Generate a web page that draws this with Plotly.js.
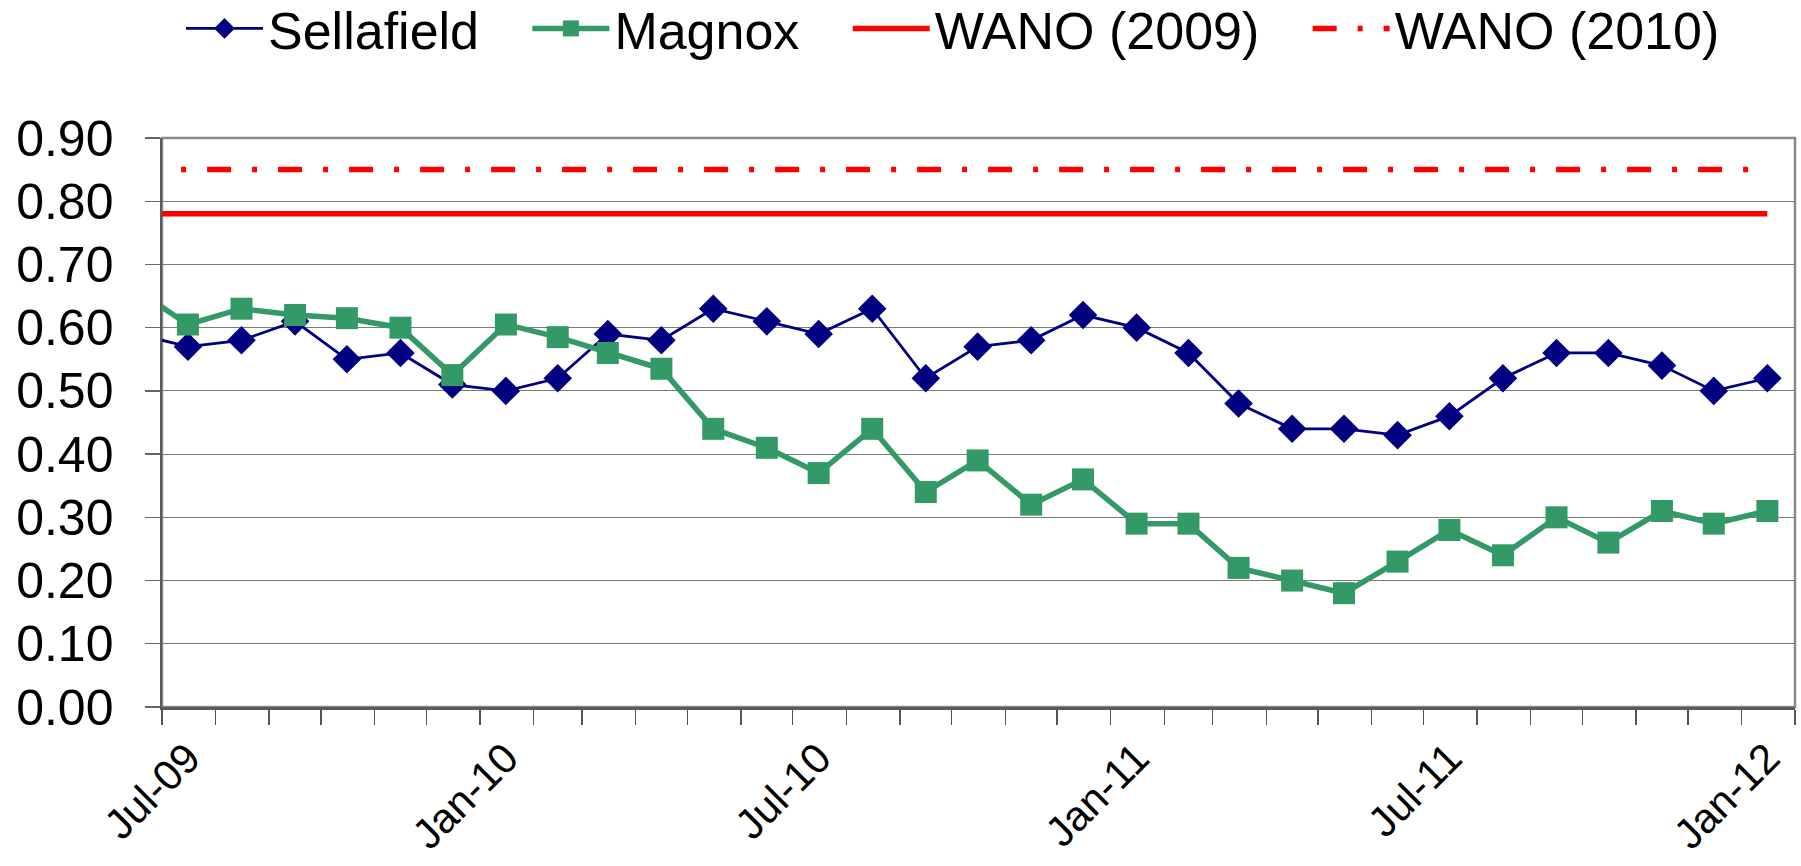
<!DOCTYPE html>
<html><head><meta charset="utf-8">
<script src="https://cdn.plot.ly/plotly-3.0.1.min.js"></script>
<style>html,body{margin:0;padding:0;background:#fff}#chart{width:1801px;height:866px}</style>
</head><body><div id="chart"></div>
<script>
// Monthly data points (mid-month); first point (Jun-09) lies just left of the visible axis range
const months = [
  '2009-06-16','2009-07-16','2009-08-16','2009-09-16','2009-10-16','2009-11-16','2009-12-16',
  '2010-01-16','2010-02-15','2010-03-16','2010-04-16','2010-05-16','2010-06-16',
  '2010-07-16','2010-08-16','2010-09-16','2010-10-16','2010-11-16','2010-12-16',
  '2011-01-16','2011-02-15','2011-03-16','2011-04-16','2011-05-16','2011-06-16',
  '2011-07-16','2011-08-16','2011-09-16','2011-10-16','2011-11-16','2011-12-16',
  '2012-01-16'
];
const sellafield = [0.59,
  0.57,0.58,0.61,0.55,0.56,0.51,
  0.50,0.52,0.59,0.58,0.63,0.61,
  0.59,0.63,0.52,0.57,0.58,0.62,
  0.60,0.56,0.48,0.44,0.44,0.43,
  0.46,0.52,0.56,0.56,0.54,0.50,
  0.52];
const magnox = [0.66,
  0.605,0.63,0.62,0.615,0.60,0.525,
  0.605,0.585,0.56,0.535,0.44,0.41,
  0.37,0.44,0.34,0.39,0.32,0.36,
  0.29,0.29,0.22,0.20,0.18,0.23,
  0.28,0.24,0.30,0.26,0.31,0.29,
  0.31];
const wano2009 = [0.78,
  0.78,0.78,0.78,0.78,0.78,0.78,
  0.78,0.78,0.78,0.78,0.78,0.78,
  0.78,0.78,0.78,0.78,0.78,0.78,
  0.78,0.78,0.78,0.78,0.78,0.78,
  0.78,0.78,0.78,0.78,0.78,0.78,
  0.78];
const wano2010 = [0.85,
  0.85,0.85,0.85,0.85,0.85,0.85,
  0.85,0.85,0.85,0.85,0.85,0.85,
  0.85,0.85,0.85,0.85,0.85,0.85,
  0.85,0.85,0.85,0.85,0.85,0.85,
  0.85,0.85,0.85,0.85,0.85,0.85,
  0.85];
const seriesNames = ['Sellafield','Magnox','WANO (2009)','WANO (2010)'];
const xRange = ['2009-07-01','2012-02-01'];

const FONT = '"Liberation Sans", Arial, Helvetica, sans-serif';
// legend spacing padding after an entry's text (non-breaking spaces)
const PAD = '\u00a0\u00a0\u00a0';

const traces = [
  {x: months, y: sellafield, name: seriesNames[0] + PAD, type: 'scatter', mode: 'lines+markers',
   line: {color: '#000080', width: 2.8},
   marker: {symbol: 'diamond', size: 22, color: '#000080', line: {width: 0}}},
  {x: months, y: magnox, name: seriesNames[1] + PAD, type: 'scatter', mode: 'lines+markers',
   line: {color: '#339966', width: 5.5},
   marker: {symbol: 'square', size: 22, color: '#339966', line: {width: 0}}},
  {x: months, y: wano2009, name: seriesNames[2] + PAD, type: 'scatter', mode: 'lines',
   line: {color: '#FF0000', width: 5.5}},
  {x: months, y: wano2010, name: seriesNames[3], type: 'scatter', mode: 'lines',
   line: {color: '#FF0000', width: 5.5, dash: '24px,21px,5px,21px'}}
];

const layout = {
  width: 1801, height: 866,
  paper_bgcolor: '#ffffff', plot_bgcolor: '#ffffff',
  font: {family: FONT, color: '#000000'},
  margin: {l: 162, r: 6, t: 138, b: 159},
  showlegend: true,
  legend: {
    orientation: 'h', xref: 'container', yref: 'container',
    x: 0.1005, xanchor: 'left', y: 0.967, yanchor: 'middle',
    font: {size: 52, family: FONT, color: '#000'},
    itemwidth: 77, bgcolor: 'rgba(0,0,0,0)'
  },
  xaxis: {
    type: 'date', range: xRange,
    tick0: '2009-07-01', dtick: 'M6', tickformat: '%b-%y',
    tickangle: -45, tickfont: {size: 42, family: FONT, color: '#000'},
    ticks: 'outside', ticklen: 15, tickcolor: '#555', tickwidth: 1.3,
    ticklabelstandoff: -8, ticklabelshift: 26,
    minor: {dtick: 'M1', ticks: 'outside', ticklen: 15, tickcolor: '#555', tickwidth: 1.3, showgrid: false},
    showgrid: false, zeroline: false,
    showline: true, linecolor: '#5a5a5a', linewidth: 2.5, mirror: false
  },
  yaxis: {
    range: [0, 0.9], dtick: 0.1, tick0: 0, tickformat: '.2f',
    tickfont: {size: 50, family: FONT, color: '#000'},
    ticks: 'outside', ticklen: 15, tickcolor: '#666', tickwidth: 1.3,
    ticklabelstandoff: 21,
    showgrid: true, gridcolor: '#7a7a7a', gridwidth: 1.2,
    zeroline: false, showline: true, linecolor: '#5a5a5a', linewidth: 2.5
  },
  shapes: [
    {type: 'rect', xref: 'paper', yref: 'paper', x0: 0, x1: 1, y0: 0, y1: 1,
     line: {color: '#8a8a8a', width: 2.5}, fillcolor: 'rgba(0,0,0,0)', layer: 'below'}
  ]
};

Plotly.newPlot('chart', traces, layout, {displayModeBar: false, staticPlot: true});
</script>
</body></html>
